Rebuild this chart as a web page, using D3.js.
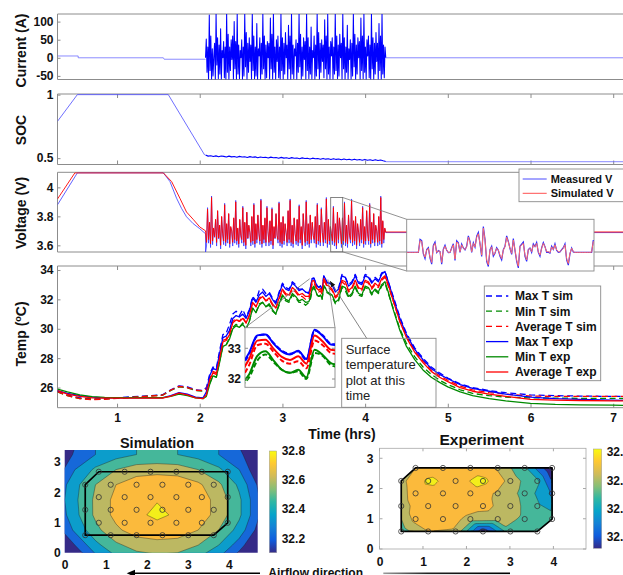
<!DOCTYPE html>
<html>
<head>
<meta charset="utf-8">
<title>Drive cycle test: current, SOC, voltage and surface temperature</title>
<script src="https://cdn.jsdelivr.net/npm/d3@7"></script>
<style>
  html, body { margin: 0; padding: 0; background: #fff; }
  svg { display: block; }
  text { font-family: "Liberation Sans", Arial, Helvetica, sans-serif; }
</style>
</head>
<body>
<svg id="fig" width="623" height="575"></svg>
<script>
// ================= data =================
const nums = s => s.trim().split(/\s+/).map(Number);

const hourTicks = [1, 2, 3, 4, 5, 6, 7];
const currentTicks = [-50, 0, 50, 100];
const socTicks = [0.5, 1];
const voltTicks = [3.6, 3.8, 4];
const tempTicks = [26, 28, 30, 32, 34];
const tempInsetTicks = [32, 33];
const surfaceTicksX = [0, 1, 2, 3, 4];
const surfaceTicksY = [0, 1, 2, 3];
const colorbarTicks = [32.2, 32.4, 32.6, 32.8];

// hours: start and end of the drive-cycle pulses (samples are evenly spaced in between)
const burstWindow = [2.07, 4.25];

// ---- current (A) ----
const currentRestT = [0.28, 0.53, 0.53, 1.56, 1.57, 2.07];
const currentRestA = [5, 5, 0, 0, -4, -4];
const currentBurst = nums(`
0 52 -40 30 -60 118 -35 60 -60 25 -50 5
40 -60 122 -20 55 -58 35 -45 80 -60 20 0
45 -55 30 -60 122 -40 65 -60 30 -35 50 -5
60 -60 100 -30 45 -60 122 -45 35 -58 20 0
50 -60 30 -50 122 -25 70 -60 40 -40 55 -10
35 -60 122 -35 60 -58 30 -50 95 -60 25 5
55 -60 40 -45 122 -30 60 -60 35 -55 45 0
40 -60 110 -30 65 -60 122 -40 30 -60 50 -10
60 -55 30 -60 122 -35 55 -60 40 -45 70 0
35 -60 90 -30 60 -60 122 -45 35 -58 25 5
50 -60 40 -40 122 -25 65 -60 30 -50 55 -5
45 -60 122 -35 55 -58 30 -45 85 -60 20 0
60 -60 35 -50 122 -30 70 -60 40 -40 50 -10
35 -55 105 -30 60 -60 122 -45 30 -60 45 5
55 -60 30 -45 122 -35 60 -58 35 -50 65 0
40 -60 122 -30 55 -60 30 -40 90 -60 25 -5
50 -60 40 -50 122 -25 65 -60 35 -45 55 0
45 -60 110 -35 60 -58 122 -40 30 -60 50 5
60 -55 35 -60 122 -30 55 -60 40 -45 70 -10
40 -60 95 -35 60 -60 122 -45 35 -55 30 0`);
const currentAfterT = [4.25, 7.3];
const currentAfterA = [0, 0];

// ---- state of charge ----
const socRestT = [0.28, 0.52, 1.62, 2.06];
const socRestV = [0.79, 1.0, 1.0, 0.524];
const socBurst = nums(`
0.524 0.516 0.519 0.513 0.518 0.511 0.517 0.514 0.509 0.516 0.51 0.513 0.507 0.514
0.509 0.511 0.505 0.512 0.507 0.51 0.503 0.509 0.505 0.507 0.501 0.508 0.503 0.505
0.499 0.506 0.5 0.503 0.497 0.504 0.499 0.501 0.495 0.502 0.497 0.499 0.493 0.5
0.495 0.497 0.491 0.498 0.492 0.495 0.489 0.496 0.49 0.493 0.487 0.494 0.488 0.491
0.485 0.492 0.486 0.489 0.483 0.49 0.484 0.487 0.481 0.488 0.482 0.485 0.479 0.474`);
const socAfterT = [4.25, 7.3];
const socAfterV = [0.472, 0.472];

// ---- terminal voltage (V) ----
const voltMeasRestT = [0.28, 0.52, 1.56, 1.64, 1.72, 1.78, 1.84, 1.92, 2.0, 2.07];
const voltMeasRestV = [3.88, 4.1, 4.1, 4.04, 3.925, 3.855, 3.797, 3.75, 3.715, 3.68];
const voltSimRestT = [0.28, 0.49, 1.56, 1.66, 1.76, 1.84, 1.92, 2.0, 2.07];
const voltSimRestV = [3.92, 4.1, 4.1, 4.04, 3.925, 3.83, 3.78, 3.727, 3.70];
const voltMeasBurst = nums(`
3.55 3.595 3.86 3.615 3.755 3.585 3.94 3.605 3.715
3.655 3.775 3.595 3.835 3.645 3.735 3.575 3.795 3.675
3.605 3.89 3.595 3.745 3.615 3.815 3.585 3.725 3.695
3.595 3.785 3.615 3.91 3.605 3.715 3.585 3.775 3.665
3.615 3.87 3.595 3.755 3.575 3.825 3.645 3.735 3.685
3.595 3.795 3.605 3.89 3.585 3.745 3.615 3.805 3.675
3.605 3.92 3.585 3.735 3.615 3.785 3.595 3.87 3.695
3.595 3.765 3.605 3.86 3.575 3.725 3.645 3.815 3.665
3.615 3.90 3.595 3.755 3.585 3.795 3.605 3.745 3.685
3.595 3.835 3.615 3.92 3.595 3.735 3.585 3.785 3.675
3.605 3.775 3.595 3.88 3.615 3.725 3.575 3.815 3.695
3.595 3.91 3.605 3.745 3.585 3.805 3.615 3.755 3.665
3.615 3.795 3.585 3.89 3.605 3.735 3.595 3.86 3.685
3.595 3.755 3.615 3.93 3.585 3.775 3.605 3.725 3.675
3.605 3.87 3.595 3.745 3.575 3.825 3.615 3.785 3.695
3.585 3.785 3.605 3.90 3.595 3.735 3.585 3.805 3.665
3.615 3.92 3.595 3.765 3.605 3.795 3.575 3.745 3.685
3.595 3.775 3.615 3.87 3.585 3.725 3.605 3.835 3.675
3.605 3.89 3.585 3.755 3.615 3.815 3.595 3.735 3.695
3.595 3.795 3.605 3.94 3.585 3.765 3.615 3.715 3.688`);
const voltSimBurst = nums(`
3.69 3.62 3.85 3.64 3.76 3.61 3.93 3.63 3.72
3.66 3.78 3.62 3.84 3.65 3.74 3.60 3.80 3.68
3.63 3.88 3.62 3.75 3.64 3.82 3.61 3.73 3.70
3.62 3.79 3.64 3.90 3.63 3.72 3.61 3.78 3.67
3.64 3.86 3.62 3.76 3.60 3.83 3.65 3.74 3.69
3.62 3.80 3.63 3.88 3.61 3.75 3.64 3.81 3.68
3.63 3.91 3.61 3.74 3.64 3.79 3.62 3.86 3.70
3.62 3.77 3.63 3.85 3.60 3.73 3.65 3.82 3.67
3.64 3.89 3.62 3.76 3.61 3.80 3.63 3.75 3.69
3.62 3.84 3.64 3.91 3.62 3.74 3.61 3.79 3.68
3.63 3.78 3.62 3.87 3.64 3.73 3.60 3.82 3.70
3.62 3.90 3.63 3.75 3.61 3.81 3.64 3.76 3.67
3.64 3.80 3.61 3.88 3.63 3.74 3.62 3.85 3.69
3.62 3.76 3.64 3.92 3.61 3.78 3.63 3.73 3.68
3.63 3.86 3.62 3.75 3.60 3.83 3.64 3.79 3.70
3.61 3.79 3.63 3.89 3.62 3.74 3.61 3.81 3.67
3.64 3.91 3.62 3.77 3.63 3.80 3.60 3.75 3.69
3.62 3.78 3.64 3.86 3.61 3.73 3.63 3.84 3.68
3.63 3.88 3.61 3.76 3.64 3.82 3.62 3.74 3.70
3.62 3.80 3.63 3.93 3.61 3.77 3.64 3.72 3.69`);
const voltAfterT = [4.25, 7.3];
const voltMeasAfterV = [3.688, 3.688];
const voltSimAfterV = [3.692, 3.692];

// zoomed stretch of the voltage record (evenly spaced samples)
const voltZoomT = [3.584, 3.729];
const voltZoomV = [3.555, 3.93];
const voltZoomMeas = nums(`
3.69 3.69 3.69 3.69 3.69 3.69 3.69 3.69
3.785 3.775 3.68 3.645 3.71 3.725 3.648 3.605 3.74 3.765
3.688 3.703 3.695 3.605 3.713 3.742 3.705 3.688 3.69 3.723
3.752 3.632 3.775 3.76 3.69 3.75 3.722 3.708 3.735 3.81
3.77 3.69 3.76 3.728 3.808 3.835 3.752 3.66 3.878 3.785
3.625 3.588 3.71 3.735 3.662 3.684 3.724 3.705 3.662 3.635
3.71 3.735 3.81 3.77 3.718 3.676 3.79 3.704 3.625 3.578
3.735 3.75 3.765 3.662 3.625 3.71 3.722 3.69 3.752 3.733
3.762 3.69 3.662 3.723 3.762 3.732 3.69 3.692 3.685 3.735
3.712 3.752 3.705 3.69 3.693 3.71 3.724 3.752 3.635 3.598
3.68 3.722 3.693 3.69 3.69 3.69 3.69 3.69 3.69 3.69
3.69 3.69 3.69 3.69 3.78`);
const voltZoomSim = nums(`
3.69 3.69 3.69 3.69 3.69 3.69 3.69 3.69
3.775 3.77 3.683 3.655 3.707 3.72 3.655 3.617 3.735 3.755
3.69 3.70 3.697 3.617 3.71 3.735 3.707 3.69 3.69 3.72
3.745 3.642 3.765 3.755 3.695 3.745 3.72 3.71 3.73 3.80
3.765 3.695 3.755 3.73 3.80 3.825 3.755 3.67 3.865 3.78
3.635 3.60 3.707 3.73 3.67 3.687 3.72 3.707 3.67 3.645
3.707 3.73 3.80 3.765 3.72 3.683 3.78 3.707 3.635 3.59
3.731 3.745 3.755 3.67 3.635 3.707 3.72 3.695 3.745 3.73
3.755 3.695 3.67 3.72 3.755 3.73 3.695 3.695 3.688 3.73
3.71 3.745 3.707 3.695 3.695 3.707 3.72 3.745 3.645 3.61
3.683 3.72 3.695 3.69 3.69 3.69 3.69 3.69 3.69 3.69
3.69 3.69 3.69 3.692 3.77`);

// ---- surface temperature (°C) ----
const tempHours = nums(`
0.28 0.4 0.55 0.7 0.85 1.0 1.2 1.4 1.55 1.65 1.75 1.85 1.95 2.04
2.08 2.12 2.16 2.20 2.24 2.28 2.32 2.36 2.40 2.44 2.48 2.52 2.56 2.60 2.64 2.68
2.72 2.76 2.80 2.84 2.88 2.92 2.96 3.00 3.04 3.08 3.12 3.16 3.20 3.24 3.28 3.32
3.34 3.36 3.38 3.40 3.42 3.44 3.46 3.48 3.50 3.52 3.54 3.56
3.60 3.64 3.68 3.72 3.76 3.80 3.84 3.88 3.92 3.96 4.00 4.04 4.08 4.12 4.16 4.20 4.24
4.28 4.34 4.42 4.5 4.6 4.7 4.8 4.9 5.0 5.15 5.3 5.5 5.7 6.0 6.3 6.6 7.0 7.3`);
const maxTSim = nums(`
25.75 25.5 25.3 25.22 25.25 25.3 25.38 25.45 25.5 25.85 26.12 26.05 25.85 25.8
26.0 26.9 27.4 27.3 28.5 29.6 29.7 30.3 31.0 31.2 30.9 31.3 30.8 31.3 32.2 31.9
32.6 32.7 32.4 32.5 32.1 31.8 32.5 33.1 32.8 32.7 33.2 33.0 32.7 32.7 32.5 32.4
32.8 33.4 33.45 33.17 32.92 32.82 32.9 32.62 33.58 33.42 33.15 33.12
33.1 32.6 32.8 33.7 33.5 33.0 33.2 33.7 33.2 33.1 33.7 33.6 33.2 33.5 33.3 33.8 33.9
33.2 32.2 30.8 29.7 28.7 28.0 27.4 27.0 26.65 26.25 26.0 25.8 25.65 25.5 25.45 25.42 25.4 25.4`);
const minTSim = nums(`
25.7 25.45 25.25 25.2 25.22 25.28 25.35 25.43 25.48 25.8 26.05 25.98 25.8 25.75
25.7 26.3 26.8 26.7 27.8 28.8 28.9 29.4 30.1 30.3 30.1 30.4 30.0 30.5 31.4 31.1
31.7 31.8 31.5 31.6 31.2 31.0 31.6 32.2 31.9 31.8 32.3 32.1 31.8 31.8 31.6 31.8
32.05 32.6 32.8 32.55 32.3 32.2 32.25 32.0 32.85 32.75 32.45 32.38
32.2 31.7 31.9 32.8 32.6 32.1 32.3 32.8 32.3 32.2 32.8 32.7 32.3 32.6 32.4 32.9 33.1
32.4 31.4 30.0 29.0 28.1 27.4 26.9 26.5 26.2 25.85 25.6 25.45 25.35 25.3 25.28 25.27 25.26 25.25`);
const avgTSim = nums(`
25.72 25.45 25.25 25.18 25.2 25.26 25.34 25.42 25.48 25.82 26.08 26.0 25.82 25.78
25.9 26.6 27.1 27.0 28.1 29.2 29.3 29.8 30.5 30.7 30.5 30.8 30.4 30.9 31.8 31.5
32.1 32.2 31.9 32.0 31.6 31.4 32.0 32.6 32.3 32.2 32.7 32.5 32.2 32.2 32.0 32.0
32.45 33.1 33.15 32.88 32.6 32.5 32.58 32.35 33.25 33.1 32.85 32.8
32.6 32.1 32.3 33.2 33.0 32.5 32.7 33.2 32.7 32.6 33.2 33.1 32.7 33.0 32.8 33.3 33.5
32.9 31.9 30.5 29.5 28.5 27.8 27.2 26.8 26.5 26.1 25.85 25.65 25.55 25.42 25.4 25.4 25.4 25.4`);
const maxTExp = nums(`
25.8 25.6 25.45 25.35 25.3 25.3 25.3 25.3 25.3 25.45 25.65 25.55 25.35 25.3
25.7 26.8 27.3 27.2 28.3 29.4 29.5 29.9 30.7 30.9 30.8 31.0 30.7 31.2 32.1 31.8
32.3 32.5 32.2 32.4 32.0 31.7 32.4 33.0 32.7 32.6 33.1 32.9 32.6 32.7 32.5 32.45
32.85 33.42 33.45 33.15 32.9 32.8 32.92 32.65 33.6 33.4 33.12 33.1
33.0 32.5 32.7 33.6 33.5 32.9 33.1 33.6 33.1 33.0 33.6 33.5 33.1 33.4 33.2 33.7 33.9
33.2 32.1 30.7 29.6 28.6 27.9 27.3 26.9 26.6 26.2 25.95 25.75 25.55 25.35 25.25 25.2 25.15 25.1`);
const minTExp = nums(`
25.9 25.7 25.5 25.38 25.33 25.32 25.32 25.32 25.32 25.4 25.55 25.45 25.3 25.25
25.4 26.2 26.8 26.7 27.7 28.8 28.9 29.3 30.0 30.2 30.1 30.3 30.0 30.5 31.4 31.1
31.6 31.8 31.5 31.7 31.3 31.0 31.7 32.3 32.0 31.9 32.4 32.2 31.9 32.0 31.8 31.85
32.15 32.75 32.9 32.6 32.3 32.2 32.3 32.05 32.95 32.78 32.52 32.45
32.3 31.8 32.0 32.9 32.8 32.2 32.4 32.9 32.4 32.3 32.9 32.8 32.4 32.7 32.5 33.0 33.2
32.5 31.3 29.9 28.8 27.9 27.2 26.7 26.35 26.05 25.7 25.45 25.25 25.1 24.92 24.85 24.82 24.8 24.78`);
const avgTExp = nums(`
25.8 25.55 25.4 25.3 25.28 25.28 25.28 25.28 25.28 25.42 25.62 25.5 25.3 25.25
25.5 26.5 27.0 26.9 28.0 29.1 29.2 29.6 30.4 30.6 30.5 30.7 30.4 30.9 31.8 31.5
32.0 32.2 31.9 32.1 31.7 31.4 32.1 32.7 32.4 32.3 32.8 32.6 32.3 32.4 32.2 32.2
32.65 33.25 33.28 32.98 32.72 32.62 32.74 32.5 33.42 33.22 32.95 32.92
32.7 32.2 32.4 33.3 33.2 32.6 32.8 33.3 32.8 32.7 33.3 33.2 32.8 33.1 32.9 33.4 33.6
33.0 31.9 30.5 29.4 28.4 27.7 27.1 26.7 26.4 26.0 25.75 25.55 25.4 25.2 25.15 25.12 25.1 25.08`);

const tempSeriesNames = ['Max T sim', 'Min T sim', 'Average T sim', 'Max T exp', 'Min T exp', 'Average T exp'];
const tempSeriesValues = [maxTSim, minTSim, avgTSim, maxTExp, minTExp, avgTExp];
const tempSeriesColors = ['#0000ff', '#008a00', '#ff0000', '#0000ff', '#008a00', '#ff0000'];
const tempSeriesDashed = [true, true, true, false, false, false];

const tempZoomT = [3.33, 3.55];       // hours shown in the magnified view
const tempZoomAnchorT = 33.4;         // °C level the magnifier lines point to
const snapshotT = [3.575, 33.25];     // instant of the surface temperature maps

// ---- surface temperature maps ----
const surfaceLevels = [32.2, 32.3, 32.4, 32.5, 32.6, 32.75];
const bandColors = ['#352a87', '#1668d9', '#0c9dcb', '#45b79a', '#bcb862', '#fbba3c', '#f3ee1a'];
const parulaStops = ['#352a87', '#0f5cdd', '#1481d6', '#06a4ca', '#2eb7a4', '#87bf77', '#d1bb59', '#fec832', '#f9fb0e'];

// thermocouple positions on the cell face
const sensorX = nums(`
0.5 1.12 1.75 2.38 3.01 3.63
0.83 1.46 2.09 2.72 3.34 3.97
0.5 1.12 1.75 2.38 3.01 3.63
0.83 1.46 2.09 2.72 3.34 3.97
0.5 1.12 1.75 2.38 3.01 3.63
0.83 1.46 2.09 2.72 3.34 3.97`);
const sensorY = nums(`
0.58 0.58 0.58 0.58 0.58 0.58
0.99 0.99 0.99 0.99 0.99 0.99
1.42 1.42 1.42 1.42 1.42 1.42
1.84 1.84 1.84 1.84 1.84 1.84
2.25 2.25 2.25 2.25 2.25 2.25
2.68 2.68 2.68 2.68 2.68 2.68`);
const expSurfaceT = nums(`
32.45 32.6 32.58 32.12 32.47 32.46
32.64 32.68 32.56 32.55 32.48 32.45
32.55 32.7 32.7 32.63 32.55 32.42
32.66 32.7 32.7 32.58 32.47 32.28
32.56 32.78 32.7 32.8 32.55 32.42
32.6 32.68 32.68 32.58 32.42 32.1`);

// simulated field on a regular grid (rows bottom to top)
const simGridX = [-0.25, 0.25, 0.75, 1.25, 1.75, 2.25, 2.75, 3.25, 3.75, 4.25, 4.75];
const simGridY = [-0.25, 0.25, 0.75, 1.25, 1.75, 2.25, 2.75, 3.25];
const simSurfaceT = nums(`
31.9 32.08 32.25 32.37 32.44 32.46 32.45 32.38 32.28 32.12 31.92
32.02 32.2 32.37 32.48 32.54 32.56 32.55 32.5 32.4 32.25 32.05
32.14 32.32 32.47 32.58 32.65 32.67 32.66 32.6 32.5 32.36 32.15
32.2 32.37 32.52 32.63 32.71 32.79 32.72 32.66 32.56 32.42 32.2
32.22 32.38 32.52 32.63 32.7 32.74 32.72 32.66 32.56 32.42 32.2
32.2 32.37 32.5 32.6 32.66 32.68 32.67 32.62 32.52 32.38 32.17
32.12 32.3 32.42 32.5 32.55 32.56 32.55 32.5 32.42 32.3 32.1
32.05 32.22 32.3 32.36 32.4 32.41 32.4 32.36 32.3 32.24 32.02`);

// ================= drawing =================
const W = 623, H = 575;
const FRAME = '#8c8c8c';
const FONT = '"Liberation Sans", Arial, Helvetica, sans-serif';
const svg = d3.select('#fig');
const defs = svg.append('defs');
svg.append('rect').attr('width', W).attr('height', H).attr('fill', '#fff');

const L = 57.5, R = 638;
const xTime = d3.scaleLinear().domain([0.28, 7.3]).range([L, R]);

const zip = (ts, vs) => ts.map((t, i) => [t, vs[i]]);
function burstPoints(values) {
  const tAt = d3.scaleLinear().domain([0, values.length - 1]).range(burstWindow);
  return values.map((v, i) => [tAt(i), v]);
}
function styleAxis(sel, size = 12) {
  sel.select('.domain').remove();
  sel.selectAll('.tick line').attr('stroke', FRAME);
  sel.selectAll('.tick text').attr('fill', '#111').attr('font-size', size)
    .attr('font-weight', 'bold').attr('font-family', FONT);
}
function clip(id, x, y, w, h) {
  defs.append('clipPath').attr('id', id).append('rect')
    .attr('x', x).attr('y', y).attr('width', w).attr('height', h);
  return `url(#${id})`;
}
function panel(id, top, bottom, domain, ticks, xMode) {
  const y = d3.scaleLinear().domain(domain).range([bottom, top]);
  const g = svg.append('g').attr('id', id);
  const ya = g.append('g').attr('transform', `translate(${L},0)`)
    .call(d3.axisLeft(y).tickValues(ticks).tickSizeInner(-3).tickSizeOuter(0)
      .tickPadding(4).tickFormat(d => String(d)));
  styleAxis(ya);
  if (xMode) {
    const xb = g.append('g').attr('transform', `translate(0,${bottom})`)
      .call(d3.axisBottom(xTime).tickValues(hourTicks).tickSizeInner(-4).tickSizeOuter(0)
        .tickPadding(6).tickFormat(xMode === 'labels' ? d => String(d) : () => ''));
    styleAxis(xb);
    const xt = g.append('g').attr('transform', `translate(0,${top})`)
      .call(d3.axisTop(xTime).tickValues(hourTicks).tickSizeInner(-4).tickSizeOuter(0)
        .tickFormat(() => ''));
    styleAxis(xt);
  }
  g.append('path').attr('d', `M${R},${top}H${L}V${bottom}H${R}`)
    .attr('fill', 'none').attr('stroke', FRAME).attr('stroke-width', 1);
  const plot = g.append('g').attr('clip-path', clip(id + '-clip', L, top, R - L, bottom - top));
  return { y, g, plot };
}
function trace(parent, pts, x, y, color, width, extra = {}) {
  const p = parent.append('path').datum(pts)
    .attr('d', d3.line().x(d => x(d[0])).y(d => y(d[1])))
    .attr('fill', 'none').attr('stroke', color).attr('stroke-width', width)
    .attr('stroke-linejoin', 'round');
  Object.entries(extra).forEach(([k, v]) => p.attr(k, v));
  return p;
}
function yTitle(label, cy) {
  return svg.append('text').attr('transform', `translate(26,${cy}) rotate(-90)`)
    .attr('text-anchor', 'middle').attr('font-size', 14).attr('font-weight', 'bold')
    .attr('fill', '#111').text(label);
}

// ---- current ----
const pCur = panel('current', 14, 79.5, [-60, 121], currentTicks, null);
trace(pCur.plot, zip(currentRestT, currentRestA), xTime, pCur.y, '#5a5aff', 0.7);
trace(pCur.plot, burstPoints(currentBurst), xTime, pCur.y, '#0000ff', 1.05);
trace(pCur.plot, zip(currentAfterT, currentAfterA), xTime, pCur.y, '#6a6aff', 0.8);
yTitle('Current (A)', 50.5);

// ---- SOC ----
const pSoc = panel('soc', 94, 164.5, [0.45, 1.005], socTicks, 'ticks');
trace(pSoc.plot, zip(socRestT, socRestV), xTime, pSoc.y, '#4a4aff', 0.8);
trace(pSoc.plot, burstPoints(socBurst), xTime, pSoc.y, '#0000ff', 1.1);
trace(pSoc.plot, zip(socAfterT, socAfterV), xTime, pSoc.y, '#6a6aff', 0.8);
yTitle('SOC', 130);

// ---- voltage ----
const pV = panel('voltage', 172.3, 252, [3.554, 4.104], voltTicks, null);
trace(pV.plot, zip(voltMeasRestT, voltMeasRestV).concat(burstPoints(voltMeasBurst), zip(voltAfterT, voltMeasAfterV)),
  xTime, pV.y, '#3a3aff', 0.8);
trace(pV.plot, zip(voltSimRestT, voltSimRestV).concat(burstPoints(voltSimBurst), zip(voltAfterT, voltSimAfterV)),
  xTime, pV.y, '#ff0000', 0.9);
yTitle('Voltage (V)', 213);

// ---- temperature ----
const pT = panel('temp', 266, 407.7, [24.63, 34.27], tempTicks, 'labels');
const tempOrder = [0, 1, 2, 3, 4, 5];
tempOrder.forEach(k => {
  trace(pT.plot, zip(tempHours, tempSeriesValues[k]), xTime, pT.y, tempSeriesColors[k], 1.3,
    tempSeriesDashed[k] ? { 'stroke-dasharray': '6,3.5' } : {});
});
const yt = svg.append('text').attr('transform', 'translate(26,334) rotate(-90)')
  .attr('text-anchor', 'middle').attr('font-size', 14).attr('font-weight', 'bold').attr('fill', '#111');
yt.append('tspan').text('Temp (');
yt.append('tspan').attr('font-size', 9).attr('dy', -5).text('o');
yt.append('tspan').attr('dy', 5).text('C)');
svg.append('text').attr('x', 342).attr('y', 438.5).attr('text-anchor', 'middle')
  .attr('font-size', 14).attr('font-weight', 'bold').attr('fill', '#111').text('Time (hrs)');

// annotation pointing at the snapshot instant
const annBox = { x: 341.7, y: 338.3, w: 94.3, h: 69 };
svg.append('rect').attr('x', annBox.x).attr('y', annBox.y).attr('width', annBox.w).attr('height', annBox.h)
  .attr('fill', 'none').attr('stroke', '#8a8a8a').attr('stroke-width', 0.9);
['Surface', 'temperature', 'plot at this', 'time'].forEach((s, i) => {
  svg.append('text').attr('x', 345.7).attr('y', 353.5 + i * 15.6).attr('font-size', 13)
    .attr('fill', '#222').text(s);
});
{
  const x0 = 366.7, y0 = annBox.y;
  const x1 = xTime(snapshotT[0]), y1 = pT.y(snapshotT[1]);
  svg.append('line').attr('x1', x0).attr('y1', y0).attr('x2', x1).attr('y2', y1)
    .attr('stroke', '#777').attr('stroke-width', 0.9);
  const ang = Math.atan2(y1 - y0, x1 - x0), len = 6, half = 2.4;
  const bx = x1 - len * Math.cos(ang), by = y1 - len * Math.sin(ang);
  svg.append('path').attr('fill', '#111')
    .attr('d', `M${x1},${y1}L${bx + half * Math.sin(ang)},${by - half * Math.cos(ang)}L${bx - half * Math.sin(ang)},${by + half * Math.cos(ang)}Z`);
}

// legend for the temperature traces
{
  const g = svg.append('g');
  g.append('rect').attr('x', 484.3).attr('y', 286).attr('width', 116.4).attr('height', 94.7)
    .attr('fill', '#fff').attr('stroke', '#8a8a8a').attr('stroke-width', 0.9);
  tempSeriesNames.forEach((name, k) => {
    const cy = 296 + k * 15.2;
    g.append('line').attr('x1', 486).attr('x2', 508.3).attr('y1', cy).attr('y2', cy)
      .attr('stroke', tempSeriesColors[k]).attr('stroke-width', 1.3)
      .attr('stroke-dasharray', tempSeriesDashed[k] ? '6,4' : null);
    g.append('text').attr('x', 515).attr('y', cy + 4.3).attr('font-size', 12)
      .attr('font-weight', 'bold').attr('fill', '#111').text(name);
  });
}

// magnified temperature view
{
  const box = { x: 245, y: 327.7, w: 90, h: 59.6 };
  const xi = d3.scaleLinear().domain(tempZoomT).range([box.x, box.x + box.w]);
  const yi = d3.scaleLinear().domain([31.73, 33.67]).range([box.y + box.h, box.y]);
  svg.append('line').attr('x1', box.x).attr('y1', box.y)
    .attr('x2', xTime(tempZoomT[0])).attr('y2', pT.y(tempZoomAnchorT))
    .attr('stroke', '#777').attr('stroke-width', 0.8);
  svg.append('line').attr('x1', box.x + box.w).attr('y1', box.y)
    .attr('x2', xTime(tempZoomT[1])).attr('y2', pT.y(tempZoomAnchorT - 0.05))
    .attr('stroke', '#777').attr('stroke-width', 0.8);
  svg.append('rect').attr('x', box.x).attr('y', box.y).attr('width', box.w).attr('height', box.h)
    .attr('fill', '#fff').attr('stroke', '#8a8a8a').attr('stroke-width', 0.9);
  const gi = svg.append('g').attr('clip-path', clip('temp-zoom-clip', box.x, box.y, box.w, box.h));
  tempOrder.forEach(k => {
    const pts = zip(tempHours, tempSeriesValues[k]).filter(d => d[0] >= 3.3 && d[0] <= 3.6);
    gi.append('path').datum(pts)
      .attr('d', d3.line().x(d => xi(d[0])).y(d => yi(d[1])).curve(d3.curveMonotoneX))
      .attr('fill', 'none').attr('stroke', tempSeriesColors[k]).attr('stroke-width', 2)
      .attr('stroke-dasharray', tempSeriesDashed[k] ? '5,2.5' : null);
  });
  tempInsetTicks.forEach(v => {
    svg.append('text').attr('x', 241).attr('y', yi(v) + 4.3).attr('text-anchor', 'end')
      .attr('font-size', 12).attr('font-weight', 'bold').attr('fill', '#111').text(String(v));
    svg.append('line').attr('x1', box.x).attr('x2', box.x + 3).attr('y1', yi(v)).attr('y2', yi(v)).attr('stroke', FRAME);
    svg.append('line').attr('x1', box.x + box.w - 3).attr('x2', box.x + box.w).attr('y1', yi(v)).attr('y2', yi(v)).attr('stroke', FRAME);
  });
}

// magnified voltage view
{
  const sx0 = xTime(voltZoomT[0]), sx1 = xTime(voltZoomT[1]);
  const sy0 = pV.y(voltZoomV[1]), sy1 = pV.y(voltZoomV[0]);
  svg.append('rect').attr('x', sx0).attr('y', sy0).attr('width', sx1 - sx0).attr('height', sy1 - sy0)
    .attr('fill', 'none').attr('stroke', '#666').attr('stroke-width', 0.8);
  const box = { x: 406.7, y: 219.3, w: 187.3, h: 51.7 };
  svg.append('line').attr('x1', sx1).attr('y1', sy0).attr('x2', box.x).attr('y2', box.y)
    .attr('stroke', '#777').attr('stroke-width', 0.8);
  svg.append('line').attr('x1', sx1).attr('y1', sy1).attr('x2', box.x).attr('y2', box.y + box.h)
    .attr('stroke', '#777').attr('stroke-width', 0.8);
  svg.append('rect').attr('x', box.x).attr('y', box.y).attr('width', box.w).attr('height', box.h)
    .attr('fill', '#fff').attr('stroke', '#8a8a8a').attr('stroke-width', 0.9);
  const gi = svg.append('g').attr('clip-path', clip('volt-zoom-clip', box.x, box.y, box.w, box.h));
  const yi = d3.scaleLinear().domain(voltZoomV).range([box.y + box.h, box.y]);
  const xm = d3.scaleLinear().domain([0, voltZoomMeas.length - 1]).range([box.x, box.x + box.w - 0.7]);
  const xs = d3.scaleLinear().domain([0, voltZoomSim.length - 1]).range([box.x, box.x + box.w - 0.7]);
  gi.append('path').datum(voltZoomMeas).attr('d', d3.line().x((d, i) => xm(i)).y(d => yi(d)))
    .attr('fill', 'none').attr('stroke', '#2a2aff').attr('stroke-width', 1.2);
  gi.append('path').datum(voltZoomSim).attr('d', d3.line().x((d, i) => xs(i)).y(d => yi(d)))
    .attr('fill', 'none').attr('stroke', '#ff6a6a').attr('stroke-width', 1);
}

// legend for the voltage traces
{
  const g = svg.append('g');
  g.append('rect').attr('x', 519).attr('y', 169).attr('width', 130).attr('height', 32.7)
    .attr('fill', '#fff').attr('stroke', '#8a8a8a').attr('stroke-width', 0.9);
  [['Measured V', '#4a4aff', 179], ['Simulated V', '#ff5050', 193.3]].forEach(([name, c, cy]) => {
    g.append('line').attr('x1', 522.7).attr('x2', 546.7).attr('y1', cy).attr('y2', cy)
      .attr('stroke', c).attr('stroke-width', 1);
    g.append('text').attr('x', 550.7).attr('y', cy + 4).attr('font-size', 11)
      .attr('font-weight', 'bold').attr('fill', '#111').text(name);
  });
}

// ---- surface temperature maps ----
const sensors = sensorX.map((x, i) => [x, sensorY[i]]);
const hull = d3.polygonHull(sensors);

function drawColorbar(id, x, y, w, h, domain) {
  const grad = defs.append('linearGradient').attr('id', id)
    .attr('x1', 0).attr('y1', 1).attr('x2', 0).attr('y2', 0);
  parulaStops.forEach((c, i) => grad.append('stop')
    .attr('offset', i / (parulaStops.length - 1)).attr('stop-color', c));
  svg.append('rect').attr('x', x).attr('y', y).attr('width', w).attr('height', h)
    .attr('fill', `url(#${id})`).attr('stroke', '#999').attr('stroke-width', 0.5);
  const cy = d3.scaleLinear().domain(domain).range([y + h, y]);
  const ax = svg.append('g').attr('transform', `translate(${x + w},0)`)
    .call(d3.axisRight(cy).tickValues(colorbarTicks).tickSizeInner(0).tickSizeOuter(0)
      .tickPadding(5).tickFormat(d3.format('.1f')));
  styleAxis(ax);
}

function drawMap(opts) {
  const { id, xs, ys, values, cols, rows, gridX, gridY, clipShape, frame } = opts;
  const g = svg.append('g').attr('id', id);
  const gx = d3.scaleLinear().domain([0.5, cols - 0.5]).range([gridX[0], gridX[gridX.length - 1]]);
  const gy = d3.scaleLinear().domain([0.5, rows - 0.5]).range([gridY[0], gridY[gridY.length - 1]]);
  const path = d3.geoPath(d3.geoTransform({
    point(px, py) { this.stream.point(xs(gx(px)), ys(gy(py))); }
  }));
  const cp = defs.append('clipPath').attr('id', id + '-clip');
  if (clipShape === 'rect') {
    cp.append('rect').attr('x', xs.range()[0]).attr('y', ys.range()[1])
      .attr('width', xs.range()[1] - xs.range()[0]).attr('height', ys.range()[0] - ys.range()[1]);
  } else {
    cp.append('path').attr('d', 'M' + clipShape.map(p => [xs(p[0]), ys(p[1])].join(',')).join('L') + 'Z');
  }
  const fill = g.append('g').attr('clip-path', `url(#${id}-clip)`);
  fill.append('rect').attr('x', 0).attr('y', 420).attr('width', W).attr('height', 155).attr('fill', bandColors[0]);
  const contours = d3.contours().size([cols, rows]).thresholds(surfaceLevels)(values);
  contours.forEach((c, i) => {
    fill.append('path').attr('d', path(c)).attr('fill', bandColors[i + 1])
      .attr('stroke', '#1c1c1c').attr('stroke-width', 0.5).attr('stroke-opacity', 0.75);
  });
  if (frame) {
    const [x0, x1] = xs.range(), [y0, y1] = ys.range();
    g.append('rect').attr('x', x0).attr('y', y1).attr('width', x1 - x0).attr('height', y0 - y1)
      .attr('fill', 'none').attr('stroke', '#a8a8a8').attr('stroke-width', 0.8);
    surfaceTicksX.forEach(v => {
      g.append('line').attr('x1', xs(v)).attr('x2', xs(v)).attr('y1', y0).attr('y2', y0 - 3).attr('stroke', '#a8a8a8');
      g.append('line').attr('x1', xs(v)).attr('x2', xs(v)).attr('y1', y1).attr('y2', y1 + 3).attr('stroke', '#a8a8a8');
    });
    surfaceTicksY.forEach(v => {
      g.append('line').attr('x1', x0).attr('x2', x0 + 3).attr('y1', ys(v)).attr('y2', ys(v)).attr('stroke', '#a8a8a8');
      g.append('line').attr('x1', x1 - 3).attr('x2', x1).attr('y1', ys(v)).attr('y2', ys(v)).attr('stroke', '#a8a8a8');
    });
  }
  g.append('path').attr('d', 'M' + hull.map(p => [xs(p[0]), ys(p[1])].join(',')).join('L') + 'Z')
    .attr('fill', 'none').attr('stroke', '#000').attr('stroke-width', 1.7).attr('stroke-linejoin', 'round');
  g.selectAll('circle.sensor').data(sensors).join('circle').attr('class', 'sensor')
    .attr('cx', d => xs(d[0])).attr('cy', d => ys(d[1])).attr('r', 2.6)
    .attr('fill', 'none').attr('stroke', '#333').attr('stroke-width', 0.8);
  const xa = g.append('g').attr('transform', `translate(0,${ys.range()[0]})`)
    .call(d3.axisBottom(xs).tickValues(surfaceTicksX).tickSize(0).tickPadding(opts.xPad).tickFormat(d => String(d)));
  styleAxis(xa);
  const ya = g.append('g').attr('transform', `translate(${xs.range()[0]},0)`)
    .call(d3.axisLeft(ys).tickValues(surfaceTicksY).tickSize(0).tickPadding(opts.yPad).tickFormat(d => String(d)));
  styleAxis(ya);
  return g;
}

// simulation map
const xSim = d3.scaleLinear().domain([0, 4.7]).range([64.7, 257.7]);
const ySim = d3.scaleLinear().domain([0, 3.4]).range([552.7, 450]);
drawMap({ id: 'sim-map', xs: xSim, ys: ySim, values: simSurfaceT, cols: simGridX.length, rows: simGridY.length,
  gridX: simGridX, gridY: simGridY, clipShape: 'rect', frame: false, xPad: 8, yPad: 4 });
svg.append('text').attr('x', 157).attr('y', 448).attr('text-anchor', 'middle')
  .attr('font-size', 14.5).attr('font-weight', 'bold').attr('fill', '#111').text('Simulation');
drawColorbar('cb-sim', 269.3, 451, 7.4, 101.7, [32.1, 32.8]);

// experiment map: linear interpolation over the Delaunay triangulation of the sensors
const xExp = d3.scaleLinear().domain([0, 4.75]).range([379.5, 586]);
const yExp = d3.scaleLinear().domain([0, 3.33]).range([549, 448.3]);
const delaunay = d3.Delaunay.from(sensors);
const tri = delaunay.triangles;
function expAt(x, y) {
  for (let k = 0; k < tri.length; k += 3) {
    const a = tri[k], b = tri[k + 1], c = tri[k + 2];
    const [x1, y1] = sensors[a], [x2, y2] = sensors[b], [x3, y3] = sensors[c];
    const det = (y2 - y3) * (x1 - x3) + (x3 - x2) * (y1 - y3);
    const l1 = ((y2 - y3) * (x - x3) + (x3 - x2) * (y - y3)) / det;
    const l2 = ((y3 - y1) * (x - x3) + (x1 - x3) * (y - y3)) / det;
    const l3 = 1 - l1 - l2;
    if (l1 >= -1e-9 && l2 >= -1e-9 && l3 >= -1e-9) {
      return l1 * expSurfaceT[a] + l2 * expSurfaceT[b] + l3 * expSurfaceT[c];
    }
  }
  return expSurfaceT[delaunay.find(x, y)];
}
const expGridX = d3.range(0.3, 4.21, 0.04);
const expGridY = d3.range(0.4, 2.91, 0.04);
const expGrid = [];
expGridY.forEach(y => expGridX.forEach(x => expGrid.push(expAt(x, y))));
drawMap({ id: 'exp-map', xs: xExp, ys: yExp, values: expGrid, cols: expGridX.length, rows: expGridY.length,
  gridX: expGridX, gridY: expGridY, clipShape: hull, frame: true, xPad: 8, yPad: 6 });
svg.append('text').attr('x', 481.7).attr('y', 445).attr('text-anchor', 'middle')
  .attr('font-size', 15.5).attr('font-weight', 'bold').attr('fill', '#111').text('Experiment');
drawColorbar('cb-exp', 593.3, 449, 8.4, 99.3, [32.12, 32.82]);

// airflow direction
{
  const ay = 573.3;
  svg.append('line').attr('x1', 260).attr('x2', 132).attr('y1', ay).attr('y2', ay)
    .attr('stroke', '#000').attr('stroke-width', 1.6);
  svg.append('path').attr('d', `M126.7,${ay}L135,${ay - 3.6}L135,${ay + 3.6}Z`).attr('fill', '#000');
  svg.append('text').attr('x', 268.3).attr('y', 577).attr('font-size', 12)
    .attr('font-weight', 'bold').attr('fill', '#111').text('Airflow direction');
  const gr = defs.append('linearGradient').attr('id', 'airflow-fade').attr('x1', 0).attr('x2', 1).attr('y1', 0).attr('y2', 0);
  gr.append('stop').attr('offset', 0).attr('stop-color', '#9a9a9a');
  gr.append('stop').attr('offset', 0.35).attr('stop-color', '#222');
  gr.append('stop').attr('offset', 1).attr('stop-color', '#000');
  svg.append('rect').attr('x', 383.3).attr('y', ay - 0.8).attr('width', 126.7).attr('height', 1.6)
    .attr('fill', 'url(#airflow-fade)');
}
</script>
</body>
</html>
